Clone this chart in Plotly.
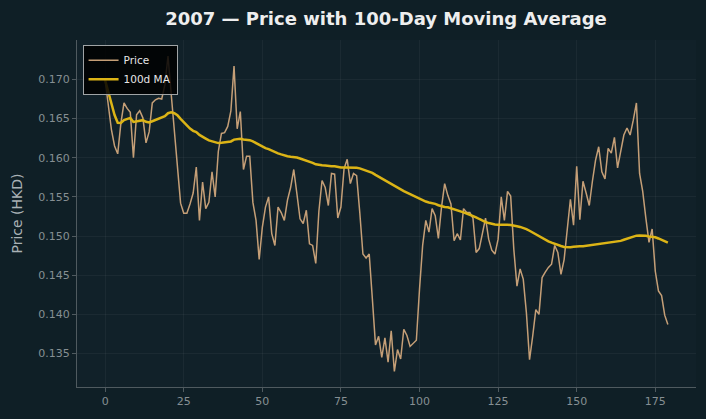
import plotly.graph_objects as go
import pandas as pd

days = list(range(180))
price = [
    0.1699, 0.1668, 0.1636, 0.1615, 0.1605, 0.1644, 0.1670, 0.1663, 0.1658, 0.1600,
    0.1655, 0.1660, 0.1651, 0.1619, 0.1633, 0.1670, 0.1674, 0.1676, 0.1675, 0.1693,
    0.1730, 0.1682, 0.1632, 0.1593, 0.1542, 0.1529, 0.1529, 0.1541, 0.1555, 0.1588,
    0.1520, 0.1569, 0.1535, 0.1543, 0.1582, 0.1550, 0.1608, 0.1631, 0.1632, 0.1640,
    0.1660, 0.1717, 0.1637, 0.1659, 0.1585, 0.1602, 0.1602, 0.1543, 0.1520, 0.1470,
    0.1511, 0.1537, 0.1550, 0.1503, 0.1488, 0.1537, 0.1530, 0.1520, 0.1546, 0.1562,
    0.1585, 0.1554, 0.1522, 0.1516, 0.1533, 0.1490, 0.1488, 0.1465, 0.1532, 0.1571,
    0.1562, 0.1539, 0.1580, 0.1579, 0.1523, 0.1537, 0.1586, 0.1598, 0.1567, 0.1580,
    0.1577, 0.1530, 0.1477, 0.1472, 0.1477, 0.1420, 0.1361, 0.1372, 0.1345, 0.1370,
    0.1339, 0.1379, 0.1327, 0.1355, 0.1343, 0.1381, 0.1373, 0.1359, 0.1363, 0.1367,
    0.1432, 0.1488, 0.1520, 0.1505, 0.1535, 0.1526, 0.1497, 0.1537, 0.1567, 0.1552,
    0.1541, 0.1494, 0.1503, 0.1495, 0.1535, 0.1530, 0.1530, 0.1523, 0.1479, 0.1484,
    0.1503, 0.1523, 0.1496, 0.1482, 0.1477, 0.1496, 0.1550, 0.1520, 0.1557, 0.1551,
    0.1483, 0.1436, 0.1458, 0.1445, 0.1402, 0.1342, 0.1372, 0.1406, 0.1400, 0.1447,
    0.1454, 0.1460, 0.1464, 0.1488, 0.1479, 0.1451, 0.1470, 0.1505, 0.1547, 0.1514,
    0.1589, 0.1521, 0.1570, 0.1555, 0.1539, 0.1570, 0.1597, 0.1614, 0.1582, 0.1573,
    0.1612, 0.1606, 0.1626, 0.1587, 0.1607, 0.1629, 0.1638, 0.1629, 0.1648, 0.1670,
    0.1580, 0.1557, 0.1523, 0.1492, 0.1509, 0.1455, 0.1430, 0.1424, 0.1399, 0.1387,
]
ma_window = 100
ma = pd.Series(price).rolling(ma_window, min_periods=1).mean().tolist()

title_text = "2007 — Price with 100-Day Moving Average"
x_ticks = [0, 25, 50, 75, 100, 125, 150, 175]
y_ticks = [0.135, 0.140, 0.145, 0.150, 0.155, 0.160, 0.165, 0.170]

BG = "#0f1f26"
PLOT_BG = "#112129"
GRID = "rgba(255,255,255,0.045)"
AXIS = "#4f5a5f"
TICK_TXT = "#868f93"
FONT = "DejaVu Sans"

fig = go.Figure()
fig.add_trace(go.Scatter(x=days, y=price, mode="lines", name="Price",
                         line=dict(color="#c59f77", width=1.5)))
fig.add_trace(go.Scatter(x=days, y=ma, mode="lines", name="100d MA",
                         line=dict(color="#dcb416", width=2.5)))

fig.update_layout(
    width=706, height=419,
    margin=dict(l=77, r=10, t=40, b=32),
    paper_bgcolor=BG, plot_bgcolor=PLOT_BG,
    font=dict(family=FONT, color=TICK_TXT, size=11),
    title=dict(text="<b>" + title_text + "</b>", x=0.5467, xanchor="center",
               y=0.955, yanchor="middle",
               font=dict(family=FONT, size=18, color="#eeeeee")),
    showlegend=True,
    legend=dict(x=0.009, y=0.986, xanchor="left", yanchor="top",
                bgcolor="rgba(0,0,0,0.85)", bordercolor="#a0a4a6", borderwidth=1,
                font=dict(family=FONT, size=10.5, color="#e6e6e6"),
                tracegroupgap=0, itemwidth=30),
)
fig.update_xaxes(range=[-8.95, 187.95], tickvals=x_ticks, ticktext=[str(t) for t in x_ticks],
                 showgrid=True, gridcolor=GRID, gridwidth=1, zeroline=False,
                 showline=True, linecolor=AXIS, linewidth=1,
                 ticks="outside", ticklen=4, tickcolor=AXIS,
                 tickfont=dict(color=TICK_TXT, size=11))
fig.update_yaxes(range=[0.13072, 0.17504], tickvals=y_ticks,
                 ticktext=[f"{t:.3f}" for t in y_ticks],
                 showgrid=True, gridcolor=GRID, gridwidth=1, zeroline=False,
                 showline=True, linecolor=AXIS, linewidth=1,
                 ticks="outside", ticklen=4, tickcolor=AXIS,
                 tickfont=dict(color=TICK_TXT, size=11),
                 title=dict(text="Price (HKD)", standoff=12,
                            font=dict(family=FONT, size=14, color="#a9b1b5")))

fig.write_html("out.html")
